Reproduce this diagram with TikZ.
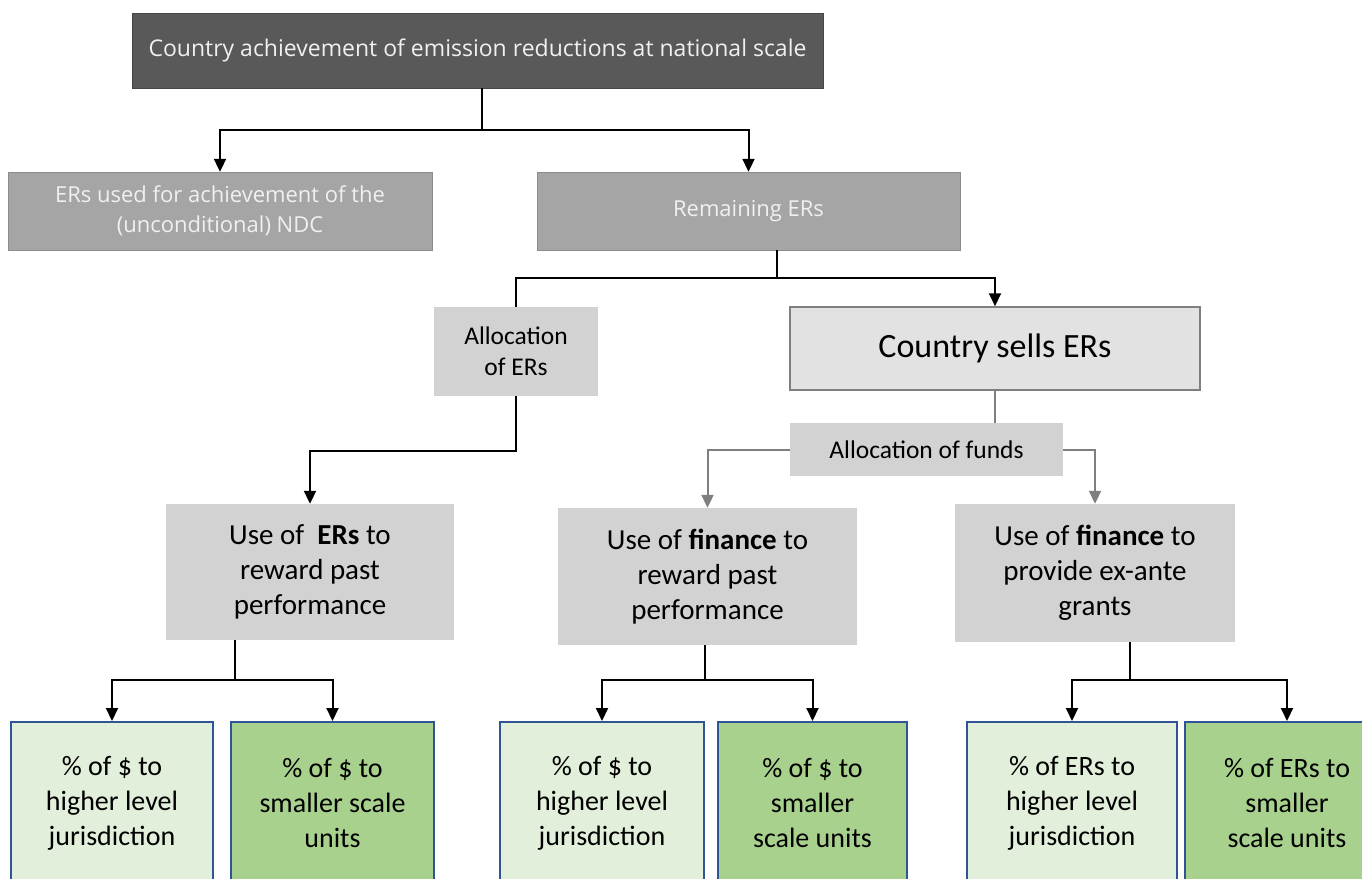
\documentclass[tikz,border=0pt]{standalone}
\usepackage{fontspec}
\setmainfont{Carlito}
\newfontfamily\segoe{Open Sans}
\usepackage{xcolor}
\definecolor{DarkGrey}{RGB}{89,89,89}
\definecolor{MidGrey}{RGB}{165,165,165}
\definecolor{LightGrey}{RGB}{210,210,210}
\definecolor{PaleGrey}{RGB}{226,226,226}
\definecolor{LineGrey}{RGB}{127,127,127}
\definecolor{PaleGreen}{RGB}{226,239,218}
\definecolor{Green}{RGB}{169,209,142}
\definecolor{Navy}{RGB}{47,85,151}
\definecolor{Snow}{RGB}{240,240,240}
\usepackage{tikz}
\usetikzlibrary{arrows.meta}

\begin{document}
\begin{tikzpicture}[x=1pt, y=-1pt,
	darkbox/.style={fill=DarkGrey, draw=DarkGrey!80!black, text=Snow, inner sep=0pt, align=center, font={\segoe\fontsize{23}{28}\selectfont}},
	midbox/.style={fill=MidGrey, draw=MidGrey!85!black, text=Snow, inner sep=0pt, align=center, font={\segoe\fontsize{22}{30}\selectfont}},
	greybox/.style={fill=LightGrey, inner sep=0pt, align=center, font={\fontsize{25.5}{31}\selectfont}},
	usebox/.style={fill=LightGrey, inner sep=0pt, align=center, font={\fontsize{29}{35}\selectfont}},
	lightgreen/.style={fill=PaleGreen, draw=Navy, line width=2pt, inner sep=0pt, align=center, minimum height=162pt, font={\fontsize{28}{35}\selectfont}},
	darkgreen/.style={lightgreen, fill=Green},
	line/.style={draw=black, line width=2pt},
	arrow/.style={line, -{Triangle[length=13pt,width=12pt]}},
	greyline/.style={draw=LineGrey, line width=2pt},
	greyarrow/.style={greyline, -{Triangle[length=13pt,width=12pt]}}]

		\useasboundingbox (0,0) rectangle (1362,878);

		% Top boxes
		\node[darkbox, minimum width=691pt, minimum height=75pt] (top) at (477.5,50.5) {Country achievement of emission reductions at national scale};
		\node[midbox, minimum width=424pt, minimum height=78pt] (ndc) at (220,211) {ERs used for achievement of the\\(unconditional) NDC};
		\node[midbox, minimum width=423pt, minimum height=78pt] (remain) at (748.5,211) {Remaining ERs};

		% Allocation boxes
		\node[greybox, minimum width=164pt, minimum height=89pt] (allocER) at (516,351.5) {Allocation\\of ERs};
		\node[greybox, fill=PaleGrey, draw=LineGrey, line width=1.5pt, minimum width=410pt, minimum height=83pt, font={\fontsize{34}{40}\selectfont}] (sells) at (995,348.5) {Country sells ERs};
		\node[greybox, minimum width=273pt, minimum height=53pt] (allocF) at (926.5,449.5) {Allocation of funds};

		% Use boxes
		\node[usebox, minimum width=288pt, minimum height=136pt] (useER) at (310,572) {Use of \ \textbf{ERs} to\\reward past\\performance};
		\node[usebox, minimum width=299pt, minimum height=137pt] (useFin) at (707.5,576.5) {Use of \textbf{finance} to\\reward past\\performance};
		\node[usebox, minimum width=280pt, minimum height=138pt] (useGr) at (1095,573) {Use of \textbf{finance} to\\provide ex-ante\\grants};

		% Bottom boxes
		\node[lightgreen, minimum width=202pt] (b1) at (112,803) {\% of \$ to\\higher level\\jurisdiction};
		\node[darkgreen, minimum width=203pt] (b2) at (332.5,803) {\% of \$ to\\smaller scale\\units};
		\node[lightgreen, minimum width=204pt] (b3) at (602,803) {\% of \$ to\\higher level\\jurisdiction};
		\node[darkgreen, minimum width=189pt] (b4) at (812.5,803) {\% of \$ to\\smaller\\scale units};
		\node[lightgreen, minimum width=210pt] (b5) at (1072,803) {\% of ERs to\\higher level\\jurisdiction};
		\node[darkgreen, minimum width=204pt] (b6) at (1287,803) {\% of ERs to\\smaller\\scale units};

		% Lines
		\draw[line] ([xshift=4.5pt]top.south) -- ++(0,42) coordinate (s1);
		\draw[arrow] (s1) -| (ndc.north);
		\draw[arrow] (s1) -| (remain.north);

		\draw[line] ([xshift=28.5pt]remain.south) -- ++(0,28) coordinate (s2);
		\draw[line] (s2) -| (allocER.north);
		\draw[arrow] (s2) -| (sells.north);

		\draw[arrow] (allocER.south) -- ++(0,55) -| (useER.north);

		\draw[greyline] (sells.south) -- (sells.south |- allocF.north);
		\draw[greyarrow] (allocF.west) -| (useFin.north);
		\draw[greyarrow] (allocF.east) -| (useGr.north);

		\draw[line] ([xshift=-75pt]useER.south) -- ++(0,40) coordinate (s3);
		\draw[arrow] (s3) -| (b1.north);
		\draw[arrow] (s3) -| (b2.north);

		\draw[line] ([xshift=-2.5pt]useFin.south) -- ++(0,35) coordinate (s4);
		\draw[arrow] (s4) -| (b3.north);
		\draw[arrow] (s4) -| (b4.north);

		\draw[line] ([xshift=35pt]useGr.south) -- ++(0,38) coordinate (s5);
		\draw[arrow] (s5) -| (b5.north);
		\draw[arrow] (s5) -| (b6.north);

	\end{tikzpicture}
\end{document}
